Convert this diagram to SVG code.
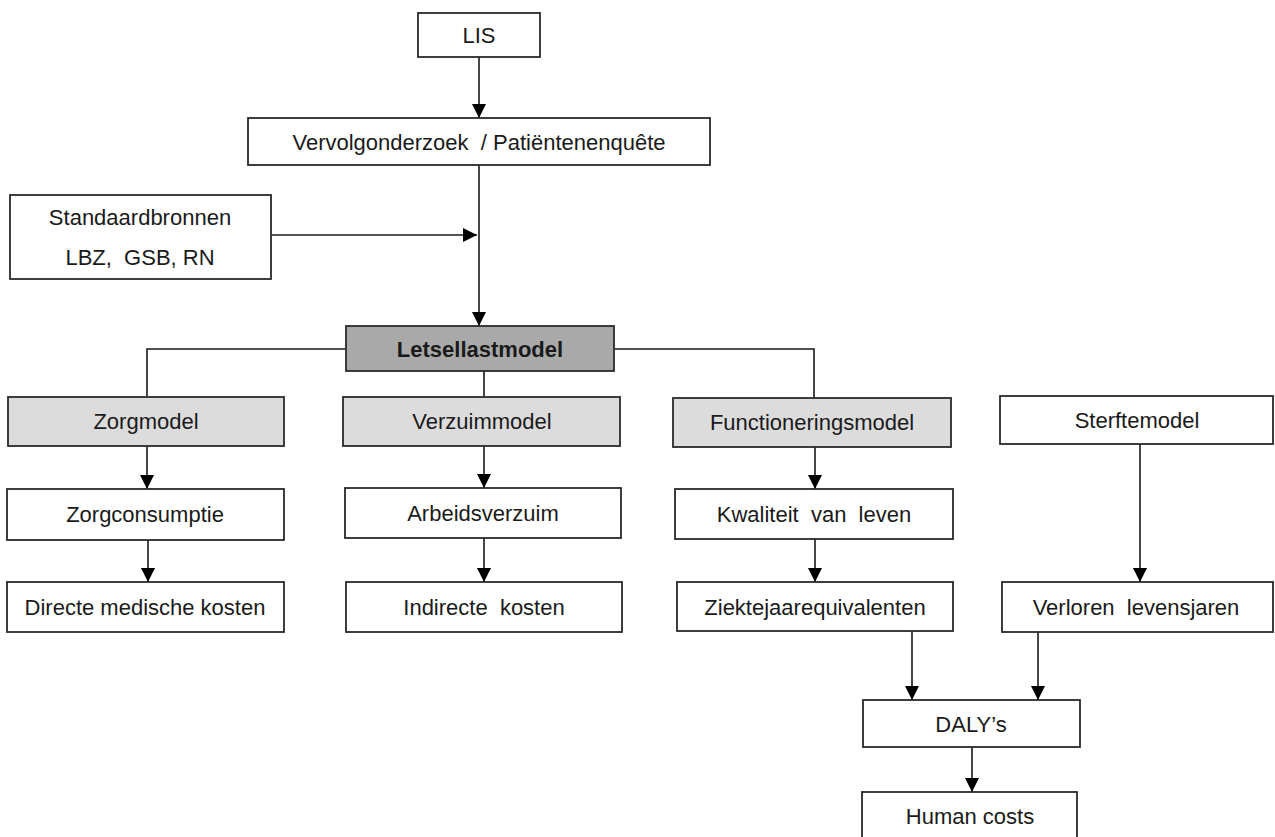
<svg xmlns="http://www.w3.org/2000/svg" width="1275" height="837" viewBox="0 0 1275 837">
<style>
.b{fill:#ffffff;stroke:#2a2a2a;stroke-width:1.8}
.g{fill:#dcdcdc;stroke:#2a2a2a;stroke-width:1.8}
.d{fill:#a9a9a9;stroke:#2a2a2a;stroke-width:1.8}
text{font-family:"Liberation Sans",Arial,sans-serif;font-size:22px;fill:#1a1a1a;text-anchor:middle}
.bold{font-weight:bold}
.c{fill:none;stroke:#1a1a1a;stroke-width:1.6}
</style>
<defs>
<marker id="ah" viewBox="0 0 10 10" refX="10" refY="5" markerWidth="14" markerHeight="14" markerUnits="userSpaceOnUse" orient="auto">
<path d="M0,0 L10,5 L0,10 Z" fill="#000"/>
</marker>
</defs>
<rect width="1275" height="837" fill="#ffffff"/>
<g id="connectors">
<line class="c" x1="479" y1="57" x2="479" y2="118" marker-end="url(#ah)"/>
<line class="c" x1="479" y1="165" x2="479" y2="326" marker-end="url(#ah)"/>
<line class="c" x1="271" y1="235" x2="477" y2="235" marker-end="url(#ah)"/>
<polyline class="c" points="346,349 147,349 147,397"/>
<line class="c" x1="484" y1="371" x2="484" y2="397"/>
<polyline class="c" points="613,349 814,349 814,398"/>
<line class="c" x1="147" y1="446" x2="147" y2="489" marker-end="url(#ah)"/>
<line class="c" x1="148" y1="540" x2="148" y2="582" marker-end="url(#ah)"/>
<line class="c" x1="484" y1="446" x2="484" y2="488" marker-end="url(#ah)"/>
<line class="c" x1="484" y1="538" x2="484" y2="582" marker-end="url(#ah)"/>
<line class="c" x1="815" y1="447" x2="815" y2="489" marker-end="url(#ah)"/>
<line class="c" x1="815" y1="539" x2="815" y2="582" marker-end="url(#ah)"/>
<line class="c" x1="1140" y1="444" x2="1140" y2="582" marker-end="url(#ah)"/>
<line class="c" x1="912" y1="631" x2="912" y2="700" marker-end="url(#ah)"/>
<line class="c" x1="1038" y1="632" x2="1038" y2="700" marker-end="url(#ah)"/>
<line class="c" x1="972" y1="747" x2="972" y2="792" marker-end="url(#ah)"/>
</g>
<g id="lis"><rect class="b" x="418" y="13" width="122" height="44"/><text x="479" y="43">LIS</text></g>
<g id="vervolg"><rect class="b" x="248" y="118" width="462" height="47"/><text x="479" y="150" xml:space="preserve">Vervolgonderzoek  / Patiëntenenquête</text></g>
<g id="standaard"><rect class="b" x="10" y="195" width="261" height="84"/><text x="140" y="225">Standaardbronnen</text><text x="140" y="265" xml:space="preserve">LBZ,  GSB, RN</text></g>
<g id="letsel"><rect class="d" x="346" y="326" width="268" height="45"/><text class="bold" x="480" y="357">Letsellastmodel</text></g>
<g id="zorgmodel"><rect class="g" x="8" y="397" width="276" height="49"/><text x="146" y="429">Zorgmodel</text></g>
<g id="verzuimmodel"><rect class="g" x="343" y="397" width="277" height="49"/><text x="482" y="429">Verzuimmodel</text></g>
<g id="functioneringsmodel"><rect class="g" x="673" y="398" width="278" height="49"/><text x="812" y="430">Functioneringsmodel</text></g>
<g id="sterftemodel"><rect class="b" x="1000" y="396" width="273" height="48"/><text x="1137" y="428">Sterftemodel</text></g>
<g id="zorgconsumptie"><rect class="b" x="7" y="489" width="277" height="51"/><text x="145" y="522">Zorgconsumptie</text></g>
<g id="arbeidsverzuim"><rect class="b" x="345" y="488" width="276" height="50"/><text x="483" y="521">Arbeidsverzuim</text></g>
<g id="kwaliteit"><rect class="b" x="675" y="489" width="278" height="50"/><text x="814" y="522" xml:space="preserve">Kwaliteit  van  leven</text></g>
<g id="directe"><rect class="b" x="7" y="582" width="277" height="50"/><text x="145" y="615">Directe medische kosten</text></g>
<g id="indirecte"><rect class="b" x="346" y="582" width="276" height="50"/><text x="484" y="615" xml:space="preserve">Indirecte  kosten</text></g>
<g id="ziektejaar"><rect class="b" x="677" y="582" width="276" height="49"/><text x="815" y="615">Ziektejaarequivalenten</text></g>
<g id="verloren"><rect class="b" x="1002" y="582" width="271" height="50"/><text x="1136" y="615" xml:space="preserve">Verloren  levensjaren</text></g>
<g id="daly"><rect class="b" x="863" y="700" width="217" height="47"/><text x="971" y="732">DALY’s</text></g>
<g id="human"><rect class="b" x="862" y="792" width="215" height="60"/><text x="970" y="824">Human costs</text></g>
</svg>
